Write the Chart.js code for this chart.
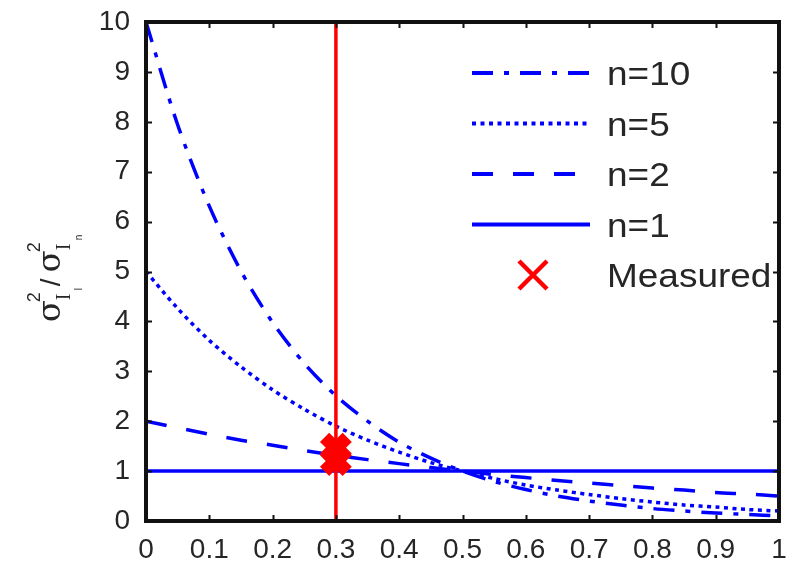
<!DOCTYPE html>
<html>
<head>
<meta charset="utf-8">
<script src="https://cdn.jsdelivr.net/npm/chart.js@4"></script>
<style>
  html, body { margin: 0; padding: 0; background: #fff; }
  #wrap { width: 788px; height: 563px; position: relative; }
</style>
</head>
<body>
<div id="wrap"><canvas id="chart"></canvas></div>
<script>
// values
const xs = [0, 0.05, 0.1, 0.15, 0.2, 0.25, 0.3, 0.35, 0.4, 0.45, 0.5, 0.55, 0.6, 0.65, 0.7, 0.75, 0.8, 0.85, 0.9, 0.95, 1];
const n10 = [10, 7.94, 6.31, 5.01, 3.98, 3.16, 2.51, 2.0, 1.58, 1.26, 1.0, 0.79, 0.63, 0.5, 0.4, 0.32, 0.25, 0.2, 0.16, 0.13, 0.1];
const n5 = [5, 4.26, 3.62, 3.09, 2.63, 2.24, 1.9, 1.62, 1.38, 1.17, 1.0, 0.85, 0.72, 0.62, 0.53, 0.45, 0.38, 0.32, 0.28, 0.23, 0.2];
const n2 = [2, 1.87, 1.74, 1.62, 1.52, 1.41, 1.32, 1.23, 1.15, 1.07, 1.0, 0.93, 0.87, 0.81, 0.76, 0.71, 0.66, 0.62, 0.57, 0.54, 0.5];
const n1 = [1, 1, 1, 1, 1, 1, 1, 1, 1, 1, 1, 1, 1, 1, 1, 1, 1, 1, 1, 1, 1];
const measuredX = [0.3, 0.3];
const measuredY = [1.45, 1.22];
const markerX = 0.3;
const xTickLabels = ['0', '0.1', '0.2', '0.3', '0.4', '0.5', '0.6', '0.7', '0.8', '0.9', '1'];
const yTickLabels = ['0', '1', '2', '3', '4', '5', '6', '7', '8', '9', '10'];

const BLUE = '#0000ff';
const RED = '#ff0000';
const INK = '#262626';
const FONT = '"Liberation Sans", Arial, sans-serif';

const pts = ys => xs.map((x, i) => ({ x: x, y: ys[i] }));

const curve = (label, ys, dash, order) => ({
  label: label, data: pts(ys), borderColor: BLUE, backgroundColor: BLUE,
  borderWidth: 3.5, borderDash: dash, pointRadius: 0, tension: 0.3, order: order, legend: true
});

// frame, inward ticks, in-plot legend, y title
const matlabLook = {
  id: 'matlabLook',
  afterDraw(chart) {
    const ctx = chart.ctx, a = chart.chartArea;
    const sx = chart.scales.x, sy = chart.scales.y;
    ctx.save();
    ctx.strokeStyle = '#111';
    ctx.lineWidth = 2;
    sx.ticks.forEach(t => {
      const px = Math.round(sx.getPixelForValue(t.value)) + 0.5;
      ctx.beginPath();
      ctx.moveTo(px, a.bottom); ctx.lineTo(px, a.bottom - 6);
      ctx.moveTo(px, a.top); ctx.lineTo(px, a.top + 6);
      ctx.stroke();
    });
    sy.ticks.forEach(t => {
      const py = Math.round(sy.getPixelForValue(t.value)) + 0.5;
      ctx.beginPath();
      ctx.moveTo(a.left, py); ctx.lineTo(a.left + 6, py);
      ctx.moveTo(a.right, py); ctx.lineTo(a.right - 6, py);
      ctx.stroke();
    });
    ctx.lineWidth = 4;
    ctx.strokeRect(a.left, a.top, a.right - a.left, a.bottom - a.top);

    // legend
    const lx = a.right - 307, ly = a.top + 51, row = 50.5;
    ctx.fillStyle = INK;
    ctx.textBaseline = 'middle';
    const items = chart.data.datasets.filter(d => d.legend);
    items.forEach((d, i) => {
      const y = ly + i * row;
      ctx.strokeStyle = d.borderColor;
      if (d.pointStyle === 'crossRot') {
        ctx.lineWidth = 4.5;
        ctx.setLineDash([]);
        const cx = lx + 61, h = 14;
        ctx.beginPath();
        ctx.moveTo(cx - h, y - h); ctx.lineTo(cx + h, y + h);
        ctx.moveTo(cx - h, y + h); ctx.lineTo(cx + h, y - h);
        ctx.stroke();
      } else {
        ctx.lineWidth = 4;
        ctx.setLineDash(d.borderDash || []);
        ctx.beginPath();
        ctx.moveTo(lx, y); ctx.lineTo(lx + 118, y);
        ctx.stroke();
      }
      ctx.setLineDash([]);
      ctx.save();
      ctx.translate(lx + 135, y + 3);
      ctx.scale(1.12, 1);
      ctx.font = '33px ' + FONT;
      ctx.fillText(d.label, 0, 0);
      ctx.restore();
    });

    // y axis title: sigma_I^2 / sigma_In^2
    ctx.translate(60, 322);
    ctx.rotate(-Math.PI / 2);
    ctx.textBaseline = 'alphabetic';
    ctx.fillStyle = INK;
    let x = 0;
    for (let k = 0; k < 2; k++) {
      ctx.font = '32px "DejaVu Serif", serif';
      ctx.fillText('σ', x, 0);
      const w = ctx.measureText('σ').width;
      ctx.font = '18px ' + FONT;
      ctx.fillText('2', x + w - 2, -20);
      ctx.font = '20px "Liberation Serif", serif';
      ctx.fillText('I', x + w, 10);
      ctx.font = '10px ' + FONT;
      ctx.fillText(k === 0 ? 'l' : 'n', x + w + 10, 22);
      x += w + 18;
      if (k === 0) {
        ctx.font = '28px ' + FONT;
        ctx.fillText('/', x - 4, 0);
        x += 10;
      }
    }
    ctx.restore();
  }
};

new Chart(document.getElementById('chart'), {
  type: 'line',
  data: {
    datasets: [
      curve('n=10', n10, [21, 11, 5, 11], 2),
      curve('n=5', n5, [4, 4.5], 3),
      curve('n=2', n2, [21, 20], 4),
      curve('n=1', n1, [], 5),
      { label: 'Measured', data: measuredX.map((x, i) => ({ x: x, y: measuredY[i] })), showLine: false,
        pointStyle: 'crossRot', pointRadius: 16, pointBorderWidth: 13, borderColor: RED, backgroundColor: RED,
        pointHoverRadius: 16, order: 0, legend: true },
      { label: 'marker', data: [{ x: markerX, y: 0 }, { x: markerX, y: 10 }], borderColor: RED,
        borderWidth: 3.5, pointRadius: 0, order: 1 }
    ]
  },
  options: {
    responsive: true,
    maintainAspectRatio: false,
    animation: false,
    layout: { autoPadding: false, padding: { top: 22, right: 9, left: 0, bottom: 0 } },
    plugins: { legend: { display: false }, tooltip: { enabled: false } },
    scales: {
      x: {
        type: 'linear', min: 0, max: 1,
        grid: { display: false, drawTicks: false },
        border: { display: false },
        ticks: {
          stepSize: 0.1, padding: 12, color: INK, font: { family: FONT, size: 28 },
          callback: (v, i) => xTickLabels[i], maxRotation: 0, autoSkip: false
        },
        afterFit(s) { s.height = 42; s.paddingLeft = 0; s.paddingRight = 0; }
      },
      y: {
        min: 0, max: 10,
        grid: { display: false, drawTicks: false },
        border: { display: false },
        ticks: {
          stepSize: 1, padding: 16, color: INK, font: { family: FONT, size: 28 },
          callback: (v, i) => yTickLabels[i], autoSkip: false
        },
        afterFit(s) { s.width = 146; s.paddingTop = 0; s.paddingBottom = 0; }
      }
    }
  },
  plugins: [matlabLook]
});
</script>
</body>
</html>
